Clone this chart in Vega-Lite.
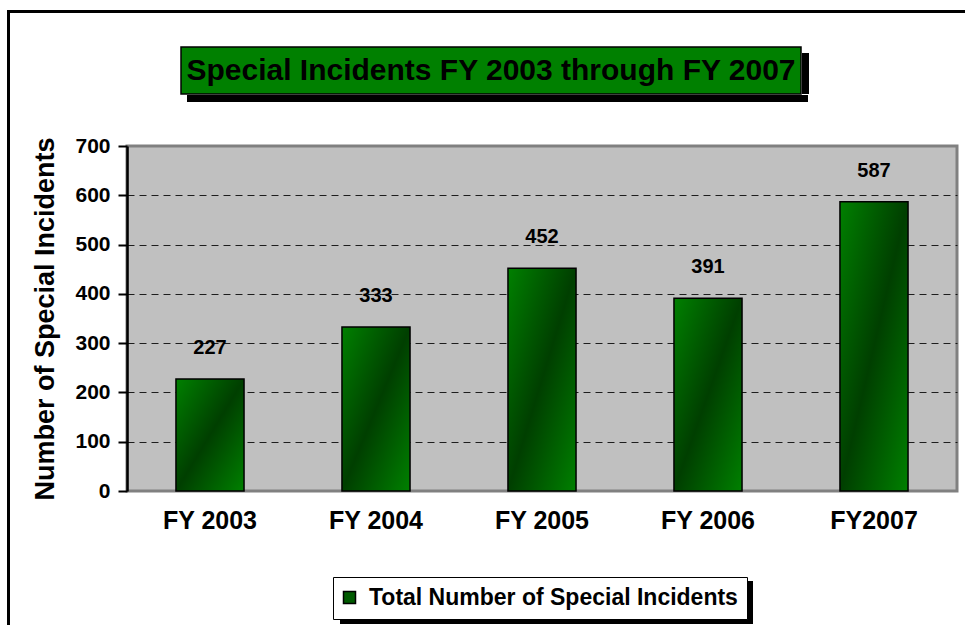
{
  "$schema": "https://vega.github.io/schema/vega-lite/v6.json",
  "background": "white",
  "padding": {"left": 7, "top": 10, "right": 0, "bottom": 0},
  "spacing": 0,
  "config": {
    "font": "Liberation Sans",
    "view": {"stroke": null}
  },
  "vconcat": [
    {
      "width": 958, "height": 3,
      "data": {"values": []},
      "view": {"fill": "#000000", "stroke": null},
      "mark": {"type": "point"},
      "encoding": {}
    },
    {
      "spacing": 20,
      "hconcat": [
        {
          "width": 3, "height": 612,
          "data": {"values": []},
          "view": {"fill": "#000000", "stroke": null},
          "mark": {"type": "point"},
          "encoding": {}
        },
        {
          "spacing": 31,
          "vconcat": [
            {
              "spacing": 0,
              "hconcat": [
                {
                  "width": 53, "height": 80,
                  "data": {"values": []},
                  "mark": {"type": "point"},
                  "encoding": {}
                },
                {
                  "spacing": 0,
                  "vconcat": [
                    {
                      "width": 620, "height": 33,
                      "data": {"values": []},
                      "mark": {"type": "point"},
                      "encoding": {}
                    },
                    {
                      "spacing": 0,
                      "hconcat": [
                        {
                          "width": 620,
                          "height": 47,
                          "data": {"values": [{"label": "Special Incidents FY 2003 through FY 2007"}]},
                          "view": {"fill": "#008000", "stroke": "#000000", "strokeWidth": 1.5},
                          "mark": {"type": "text", "font": "Liberation Sans", "fontWeight": "bold", "fontSize": 30, "color": "#000000", "align": "center", "baseline": "middle"},
                          "encoding": {"text": {"field": "label"}}
                        },
                        {
                          "spacing": 0,
                          "vconcat": [
                            {
                              "width": 7, "height": 6,
                              "data": {"values": []},
                              "mark": {"type": "point"},
                              "encoding": {}
                            },
                            {
                              "width": 7, "height": 41,
                              "data": {"values": []},
                              "view": {"fill": "#000000", "stroke": null},
                              "mark": {"type": "point"},
                              "encoding": {}
                            }
                          ]
                        }
                      ]
                    },
                    {
                      "spacing": 0,
                      "hconcat": [
                        {
                          "width": 6, "height": 7,
                          "data": {"values": []},
                          "mark": {"type": "point"},
                          "encoding": {}
                        },
                        {
                          "width": 621, "height": 7,
                          "data": {"values": []},
                          "view": {"fill": "#000000", "stroke": null},
                          "mark": {"type": "point"},
                          "encoding": {}
                        }
                      ]
                    }
                  ]
                }
              ]
            },
            {
              "spacing": 46,
              "vconcat": [
                {
                  "width": 830,
                  "height": 345,
                  "data": {"values": [
                    {"year": "FY 2003", "incidents": 227, "series": "Total Number of Special Incidents"},
                    {"year": "FY 2004", "incidents": 333, "series": "Total Number of Special Incidents"},
                    {"year": "FY 2005", "incidents": 452, "series": "Total Number of Special Incidents"},
                    {"year": "FY 2006", "incidents": 391, "series": "Total Number of Special Incidents"},
                    {"year": "FY2007", "incidents": 587, "series": "Total Number of Special Incidents"}
                  ]},
                  "view": {"fill": "#c0c0c0", "stroke": "#808080", "strokeWidth": 3},
                  "encoding": {
                    "x": {
                      "field": "year", "type": "nominal", "sort": null,
                      "scale": {"paddingInner": 0.59, "paddingOuter": 0.295},
                      "axis": {
                        "title": null, "labelAngle": 0, "ticks": false, "domain": false,
                        "labelFont": "Liberation Sans", "labelFontWeight": "bold", "labelFontSize": 25,
                        "labelColor": "#000000", "labelPadding": 17
                      }
                    },
                    "y": {
                      "field": "incidents", "type": "quantitative",
                      "scale": {"domain": [0, 700], "nice": false},
                      "axis": {
                        "title": "Number of Special Incidents",
                        "values": [0, 100, 200, 300, 400, 500, 600, 700],
                        "titleFont": "Liberation Sans", "titleFontWeight": "bold", "titleFontSize": 27,
                        "titleColor": "#000000", "titlePadding": 15,
                        "labelFont": "Liberation Sans", "labelFontWeight": "bold", "labelFontSize": 21,
                        "labelColor": "#000000", "labelPadding": 8,
                        "domainColor": "#000000", "domainWidth": 2.5,
                        "tickColor": "#000000", "tickWidth": 2, "tickSize": 9,
                        "grid": true, "gridColor": "#000000", "gridWidth": 1, "gridDash": [7, 5],
                        "gridOpacity": {"condition": {"test": "datum.value === 0 || datum.value === 700", "value": 0}, "value": 0.85}
                      }
                    }
                  },
                  "layer": [
                    {
                      "mark": {"type": "bar"},
                      "encoding": {
                        "color": {
                          "field": "series", "type": "nominal",
                          "scale": {"range": ["#005a00"]},
                          "legend": {
                            "title": null, "orient": "none", "legendX": 326, "legendY": 567,
                            "fillColor": "#ffffff", "strokeColor": "#000000", "padding": 9,
                            "labelFont": "Liberation Sans", "labelFontWeight": "bold", "labelFontSize": 23,
                            "labelColor": "#000000", "labelLimit": 0, "labelOffset": 8, "symbolOffset": -4,
                            "symbolType": "square", "symbolSize": 144, "symbolStrokeColor": "#000000", "symbolStrokeWidth": 1.5
                          }
                        }
                      }
                    },
                    {
                      "mark": {
                        "type": "bar", "stroke": "#000000", "strokeWidth": 1.5,
                        "color": {
                          "gradient": "linear", "x1": 0, "y1": 0, "x2": 1, "y2": 1,
                          "stops": [
                            {"offset": 0, "color": "#008000"},
                            {"offset": 0.5, "color": "#003f00"},
                            {"offset": 1, "color": "#008000"}
                          ]
                        }
                      }
                    },
                    {
                      "mark": {"type": "text", "dy": -21, "baseline": "bottom", "font": "Liberation Sans", "fontWeight": "bold", "fontSize": 20, "color": "#000000"},
                      "encoding": {"text": {"field": "incidents", "type": "quantitative"}}
                    }
                  ]
                },
                {
                  "spacing": 0,
                  "hconcat": [
                    {
                      "width": 213, "height": 43,
                      "data": {"values": []},
                      "mark": {"type": "point"},
                      "encoding": {}
                    },
                    {
                      "width": 413, "height": 43,
                      "data": {"values": []},
                      "view": {"fill": "#000000", "stroke": null},
                      "mark": {"type": "point"},
                      "encoding": {}
                    }
                  ]
                }
              ]
            }
          ]
        }
      ]
    }
  ]
}
